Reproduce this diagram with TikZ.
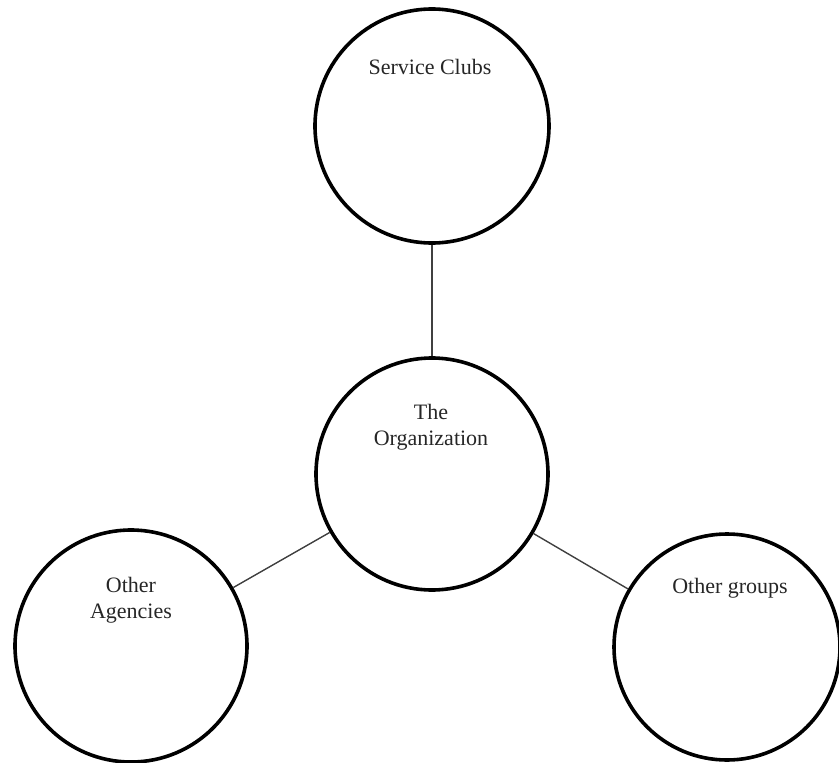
\documentclass[tikz,border=0pt]{standalone}
\usepackage{fontspec}
\setmainfont{Liberation Serif}
\begin{document}
\begin{tikzpicture}[x=1pt,y=-1pt,
  ring/.style={circle,draw=black,line width=3.6pt,inner sep=0pt},
  lab/.style={text=black!85,align=center,font=\fontsize{22}{26}\selectfont,inner sep=0pt},
  link/.style={draw=black!75,line width=1.4pt}]
\useasboundingbox (0,0) rectangle (839,763);
\node[ring,minimum size=234pt] (sc) at (432,126) {};
\node[ring,minimum size=232pt] (org) at (432,474) {};
\node[ring,minimum size=232pt] (ag) at (131,646) {};
\node[ring,minimum size=226pt] (og) at (727,647) {};
\node[lab] (tsc) at (430,67) {Service Clubs};
\node[lab] (torg) at (431,427) {The\\Organization};
\node[lab] (tag) at (131,600) {Other\\Agencies};
\node[lab] (tog) at (730,588) {Other groups};
\draw[link] (sc) -- (org);
\draw[link] (org) -- (ag);
\draw[link] (org) -- (og);
\end{tikzpicture}
\end{document}
